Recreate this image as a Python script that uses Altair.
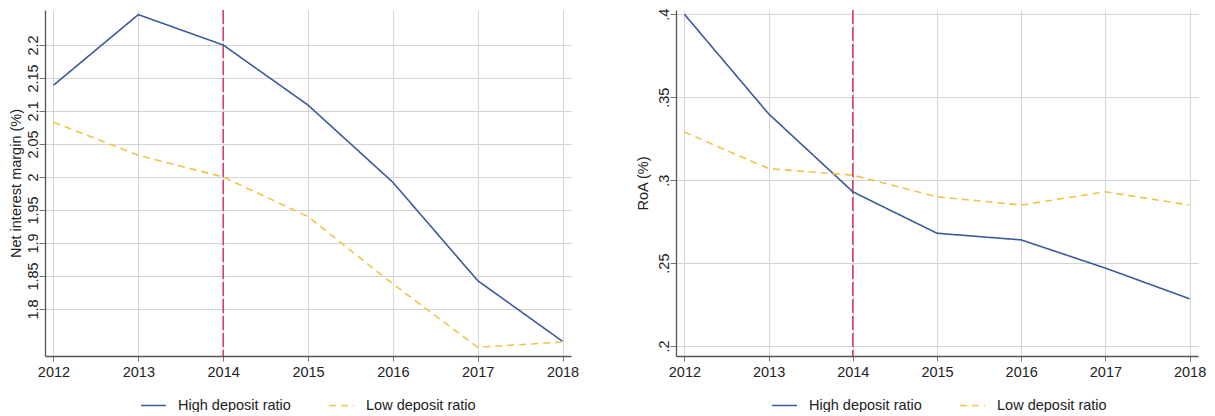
import altair as alt
import pandas as pd

years = [2012, 2013, 2014, 2015, 2016, 2017, 2018]
series_names = ["High deposit ratio", "Low deposit ratio"]
nim_high = [2.139, 2.246, 2.200, 2.109, 1.992, 1.843, 1.751]
nim_low = [2.083, 2.033, 2.000, 1.940, 1.838, 1.742, 1.750]
roa_high = [0.400, 0.340, 0.293, 0.268, 0.264, 0.247, 0.2285]
roa_low = [0.329, 0.307, 0.303, 0.290, 0.285, 0.293, 0.285]
nim_ticks = [1.8, 1.85, 1.9, 1.95, 2.0, 2.05, 2.1, 2.15, 2.2]
roa_ticks = [0.2, 0.25, 0.3, 0.35, 0.4]
event_year = [2014]

BLUE = "#3b5a9d"
YELLOW = "#f3c24a"
RED = "#d6336c"
FONT = "Liberation Sans"
FS = 14.5


def long_df(high, low):
    rows = []
    for y, v in zip(years, high):
        rows.append({"year": y, "value": v, "series": series_names[0]})
    for y, v in zip(years, low):
        rows.append({"year": y, "value": v, "series": series_names[1]})
    return pd.DataFrame(rows)


def make_legend():
    return alt.Legend(title=None, orient="none", direction="horizontal",
                      legendX=95, legendY=382,
                      symbolType="stroke", symbolSize=620,
                      symbolStrokeWidth=1.6, labelOffset=11,
                      columnPadding=34, labelFontSize=FS,
                      labelFont=FONT, labelColor="#222")


def panel(high, low, ytitle, ydomain, yticks, fmt, title_pad, width, label_expr=None):
    df = long_df(high, low)
    xscale = alt.Scale(domain=[2011.9, 2018.1], nice=False, zero=False)
    xaxis = alt.Axis(values=years, format="d", title=None, grid=True,
                     tickSize=5, labelPadding=4)
    yaxis_kw = dict(values=yticks, title=ytitle, grid=True, labelAngle=270,
                    labelAlign="center", labelBaseline="alphabetic", format=fmt,
                    tickSize=6, labelPadding=2, titlePadding=title_pad)
    if label_expr:
        yaxis_kw["labelExpr"] = label_expr
    yaxis = alt.Axis(**yaxis_kw)
    lines = alt.Chart(df).mark_line(strokeWidth=1.6).encode(
        x=alt.X("year:Q", scale=xscale, axis=xaxis),
        y=alt.Y("value:Q", scale=alt.Scale(domain=ydomain, nice=False, zero=False),
                axis=yaxis),
        color=alt.Color("series:N",
                        scale=alt.Scale(domain=series_names, range=[BLUE, YELLOW]),
                        legend=make_legend()),
        strokeDash=alt.StrokeDash("series:N",
                                  scale=alt.Scale(domain=series_names,
                                                  range=[[1, 0], [7, 5]]),
                                  legend=make_legend()),
    )
    rule = alt.Chart(pd.DataFrame({"year": event_year})).mark_rule(
        color=RED, strokeDash=[14, 3], strokeWidth=1.5
    ).encode(x=alt.X("year:Q", scale=xscale))
    return alt.layer(rule, lines).properties(width=width, height=346)


left = panel(nim_high, nim_low, "Net interest margin (%)", [1.7288, 2.253], nim_ticks,
             ".3~g", 2, 526)
right = panel(roa_high, roa_low, "RoA (%)", [0.194, 0.4026], roa_ticks, ".2~f", 6, 522,
              label_expr="substring(datum.label, 1)")

chart = alt.hconcat(left, right, spacing=56).resolve_legend(
    color="independent", strokeDash="independent"
).resolve_scale(color="independent", strokeDash="independent").properties(
    padding={"left": 0, "top": 0, "right": 0, "bottom": 0},
    background="white",
).configure_view(stroke=None).configure_axis(
    gridColor="#d4d4d4", gridWidth=1, domainColor="#555", domainWidth=1.3,
    tickColor="#777", labelFont=FONT, titleFont=FONT, labelFontSize=FS,
    titleFontSize=FS, labelColor="#222", titleColor="#222", titleFontWeight="normal",
).configure_legend(labelFont=FONT)

chart.save("out.html", embed_options={"renderer": "svg", "actions": False})
